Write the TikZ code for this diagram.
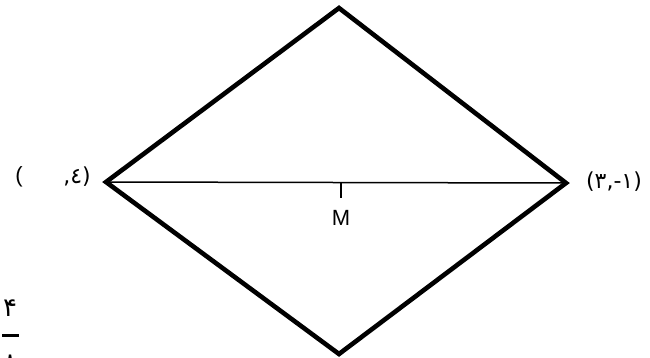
\documentclass[tikz,border=0pt]{standalone}
\usepackage{fontspec}
\setmainfont{Liberation Sans}
\newfontfamily\arfont{DejaVu Sans}
\begin{document}
\begin{tikzpicture}[x=1pt,y=-1pt,
  thickedge/.style={line width=4.6pt,line join=miter},
  thinedge/.style={line width=1.5pt},
  lbl/.style={inner sep=0pt,font=\fontsize{22}{26}\selectfont}]
\useasboundingbox (0,0) rectangle (650,357);
\coordinate (L) at (106,182);
\coordinate (R) at (566,183);
\coordinate (T) at (339,8);
\coordinate (B) at (339,354);
\coordinate (M) at (341,183);
\coordinate (Mt) at (341,198);
\draw[thickedge] (L) -- (T) -- (R) -- (B) -- cycle;
\draw[thinedge] (L) -- (R);
\draw[line width=1.5pt] (M) -- (Mt);
\node[lbl] (mlab) at (341,218) {M};
\node[lbl] (lp) at (19,177) {(};
\node[lbl] (lnum) at (77,177) {\arfont ,\char"0664)};
\node[lbl] (rnum) at (614,182) {\arfont (\char"06F3,-\char"06F1)};
\node[lbl,font=\fontsize{26}{30}\selectfont] (f4) at (10,308) {\arfont \char"06F4};
\coordinate (fa) at (2,335.5);
\coordinate (fb) at (19,335.5);
\draw[line width=3pt] (fa) -- (fb);
\node[lbl,font=\fontsize{26}{30}\selectfont] (f8) at (10,363) {\arfont \char"06F8};
\end{tikzpicture}
\end{document}
